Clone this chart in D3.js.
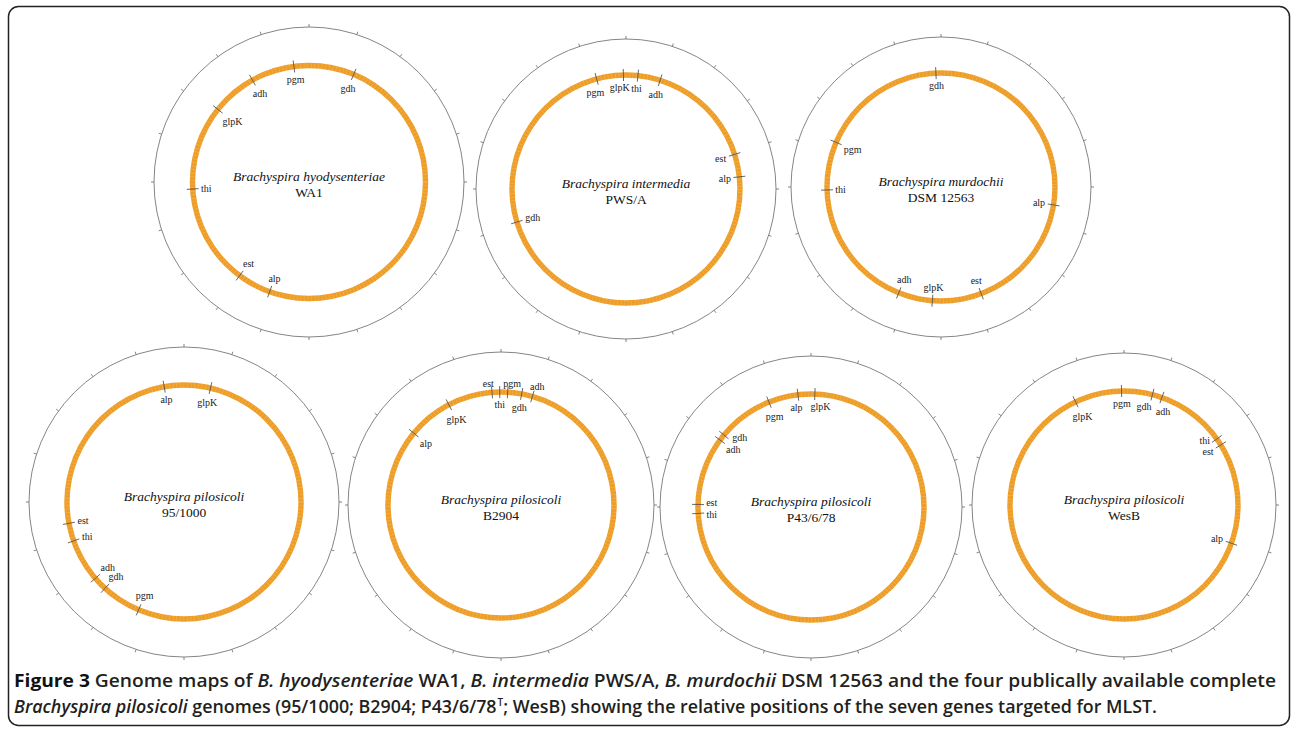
<!DOCTYPE html>
<html>
<head>
<meta charset="utf-8">
<script src="https://cdn.jsdelivr.net/npm/d3@7"></script>
<style>
  body { margin: 0; background: #fff; }
  svg { display: block; }
</style>
</head>
<body>
<div id="fig"></div>
<script>
// genomes, in panel order
const strains = ["WA1", "PWS/A", "DSM 12563", "95/1000", "B2904", "P43/6/78", "WesB"];
const species = ["Brachyspira hyodysenteriae", "Brachyspira intermedia", "Brachyspira murdochii",
                 "Brachyspira pilosicoli", "Brachyspira pilosicoli", "Brachyspira pilosicoli", "Brachyspira pilosicoli"];
const genomeMb = [3.001, 3.305, 3.242, 2.586, 2.765, 2.556, 2.890];

// MLST gene start positions (Mb) per genome, same order as strains
const geneNames = ["adh", "alp", "est", "gdh", "glpK", "pgm", "thi"];
const adhMb  = [2.759, 0.160, 1.817, 1.647, 0.124, 2.175, 0.156];
const alpMb  = [1.665, 0.770, 0.892, 2.516, 2.377, 2.509, 0.880];
const estMb  = [1.805, 0.664, 1.435, 1.864, 2.730, 1.926, 0.467];
const gdhMb  = [0.188, 2.324, 3.219, 1.598, 0.081, 2.198, 0.116];
const glpKMb = [2.572, 3.293, 1.660, 0.094, 2.554, 0.014, 2.688];
const pgmMb  = [2.939, 3.168, 2.639, 1.457, 0.026, 2.401, 2.880];
const thiMb  = [2.222, 0.055, 2.418, 1.800, 2.760, 1.894, 0.438];
const genePos = {adh: adhMb, alp: alpMb, est: estMb, gdh: gdhMb, glpK: glpKMb, pgm: pgmMb, thi: thiMb};

// layout of each map on the page
const panels = [
  {cx: 309, cy: 182, rO: 155, rR: 116.5},
  {cx: 626, cy: 189, rO: 150, rR: 114},
  {cx: 941, cy: 187, rO: 150, rR: 114},
  {cx: 184, cy: 502, rO: 155, rR: 117},
  {cx: 501, cy: 505, rO: 153, rR: 113},
  {cx: 811, cy: 507, rO: 151, rR: 113},
  {cx: 1124, cy: 505, rO: 152, rR: 114}
];
// labels drawn outside the ring, and small hand nudges where labels crowd
const outside = {"B2904|est": 1, "B2904|pgm": 1, "B2904|adh": 1};
const nudge = {
  "PWS/A|glpK": [-4, 0], "PWS/A|pgm": [-5, -1],
  "B2904|est": [-3, 0], "B2904|pgm": [4, 0], "B2904|adh": [2, 0],
  "P43/6/78|gdh": [3, -8], "P43/6/78|est": [0, -2], "P43/6/78|thi": [0, 2],
  "P43/6/78|glpK": [6, 0], "P43/6/78|alp": [-3, 0],
  "WesB|thi": [0, -7], "WesB|est": [0, -1], "WesB|gdh": [-5, -2], "WesB|adh": [6, 0]
};

const W = 1293, H = 730;
const serif = "'Liberation Serif', 'Times New Roman', serif";

const svg = d3.select("#fig").append("svg")
    .attr("width", W)
    .attr("height", H);

svg.append("rect")
    .attr("x", 8.5).attr("y", 6.5)
    .attr("width", 1281).attr("height", 719)
    .attr("rx", 10)
    .attr("fill", "none")
    .attr("stroke", "#222")
    .attr("stroke-width", 1.5);

const polar = (r, t) => [r * Math.sin(t), -r * Math.cos(t)];

panels.forEach(function(p, i) {
  const g = svg.append("g").attr("transform", `translate(${p.cx},${p.cy})`);
  const angle = d3.scaleLinear().domain([0, genomeMb[i]]).range([0, 2 * Math.PI]);

  // outer scale circle with ticks
  g.append("circle")
      .attr("r", p.rO)
      .attr("fill", "none")
      .attr("stroke", "#666")
      .attr("stroke-width", 0.8);

  const ticks = d3.range(20).map(k => genomeMb[i] * k / 20);
  g.selectAll("line.tick")
    .data(ticks)
    .join("line")
      .attr("class", "tick")
      .attr("x1", d => polar(p.rO, angle(d))[0])
      .attr("y1", d => polar(p.rO, angle(d))[1])
      .attr("x2", d => polar(p.rO + 3, angle(d))[0])
      .attr("y2", d => polar(p.rO + 3, angle(d))[1])
      .attr("stroke", "#666")
      .attr("stroke-width", 0.8);

  // feature ring
  g.append("path")
      .attr("d", d3.arc()({innerRadius: p.rR - 2.7, outerRadius: p.rR + 2.7,
                           startAngle: 0, endAngle: 2 * Math.PI}))
      .attr("fill", "#ee9d26");
  g.append("circle")
      .attr("r", p.rR)
      .attr("fill", "none")
      .attr("stroke", "#f8d49a")
      .attr("stroke-width", 5.4)
      .attr("stroke-dasharray", "0.5 3.1")
      .attr("opacity", 0.5);

  // gene markers and labels
  geneNames.forEach(function(gn) {
    const t = angle(genePos[gn][i]);
    const [x1, y1] = polar(p.rR - 6, t);
    const [x2, y2] = polar(p.rR + 6, t);
    g.append("line")
        .attr("x1", x1).attr("y1", y1)
        .attr("x2", x2).attr("y2", y2)
        .attr("stroke", "#555")
        .attr("stroke-width", 0.9);

    const key = strains[i] + "|" + gn;
    const lab = g.append("text")
        .attr("font-family", serif)
        .attr("font-size", 10)
        .attr("fill", "#222")
        .attr("text-anchor", "middle")
        .text(gn);
    const w = lab.node().getComputedTextLength();
    const half = Math.abs(Math.sin(t)) * w / 2 + Math.abs(Math.cos(t)) * 4.5;
    const rad = outside[key] ? p.rR + 4 + half : p.rR - 8 - half;
    const n = nudge[key] || [0, 0];
    const [lx, ly] = polar(rad, t);
    lab.attr("x", lx + n[0]).attr("y", ly + n[1] + 3.5);
  });

  // centre title
  g.append("text")
      .attr("font-family", serif)
      .attr("font-style", "italic")
      .attr("font-size", 13.5)
      .attr("fill", "#111")
      .attr("text-anchor", "middle")
      .attr("y", -1.5)
      .text(species[i]);
  g.append("text")
      .attr("font-family", serif)
      .attr("font-size", 13.5)
      .attr("fill", "#111")
      .attr("text-anchor", "middle")
      .attr("y", 15)
      .text(strains[i]);
});

// caption
const capFont = "'Open Sans', 'Noto Sans', sans-serif";
const line1 = [
  ["Figure 3 ", 3], ["Genome maps of ", 0], ["B. hyodysenteriae", 1], [" WA1, ", 0],
  ["B. intermedia", 1], [" PWS/A, ", 0], ["B. murdochii", 1],
  [" DSM 12563 and the four publically available complete", 0]
];
const line2 = [
  ["Brachyspira pilosicoli", 1], [" genomes (95/1000; B2904; P43/6/78", 0], ["T", 2],
  ["; WesB) showing the relative positions of the seven genes targeted for MLST.", 0]
];

function caption(parts, y, len) {
  const t = svg.append("text")
      .attr("x", 14)
      .attr("y", y)
      .attr("font-family", capFont)
      .attr("font-weight", 600)
      .attr("font-size", 18)
      .attr("fill", "#231f20")
      .attr("textLength", len)
      .attr("lengthAdjust", "spacingAndGlyphs");
  parts.forEach(function(d, k) {
    const s = t.append("tspan").text(d[0]);
    if (d[1] === 1) s.attr("font-style", "italic");
    if (d[1] === 2) s.attr("font-size", 10).attr("dy", -7).attr("dx", 1);
    if (d[1] === 3) s.attr("font-weight", 700).attr("fill", "#111");
    if (k > 0 && parts[k - 1][1] === 2) s.attr("dy", 7);
  });
}
caption(line1, 687, 1262);
caption(line2, 713, 1143);
</script>
</body>
</html>
